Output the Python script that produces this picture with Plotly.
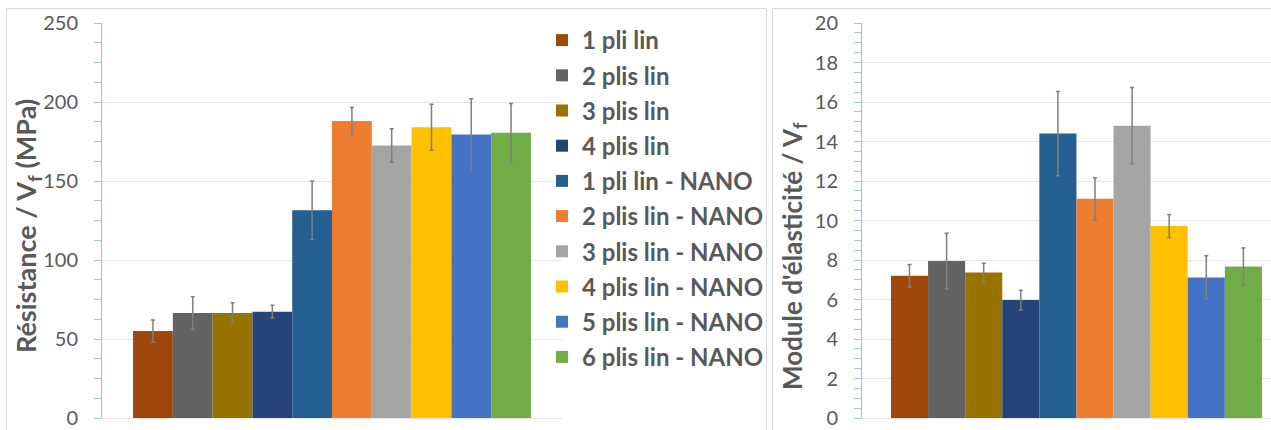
import plotly.graph_objects as go

series_names = ["1 pli lin", "2 plis lin", "3 plis lin", "4 plis lin",
                "1 pli lin - NANO", "2 plis lin - NANO", "3 plis lin - NANO",
                "4 plis lin - NANO", "5 plis lin - NANO", "6 plis lin - NANO"]
colors = ["#9E480E", "#636363", "#997300", "#264478", "#255E91",
          "#ED7D31", "#A5A5A5", "#FFC000", "#4472C4", "#70AD47"]

resistance = [55, 66.5, 66.5, 67.3, 131.5, 188, 172.5, 184, 179.5, 180.5]
resistance_err = [7, 10.3, 6.5, 4, 18.5, 8.5, 10.5, 14.5, 22.5, 18.5]

module = [7.2, 7.95, 7.37, 5.97, 14.4, 11.1, 14.8, 9.72, 7.12, 7.67]
module_err = [0.57, 1.4, 0.46, 0.5, 2.13, 1.06, 1.93, 0.58, 1.09, 0.94]

left_ticks = [0, 50, 100, 150, 200, 250]
right_ticks = [0, 2, 4, 6, 8, 10, 12, 14, 16, 18, 20]

W, H = 1271, 430
FONT = "Lato"
TXT = "#595959"
AXC = "#9DC3E6"
GRID = "#E6E6E6"

fig = go.Figure()
for i, name in enumerate(series_names):
    fig.add_trace(go.Bar(
        x=[0], y=[resistance[i]], name=name, marker_color=colors[i],
        marker_line_width=0,
        error_y=dict(type="data", array=[resistance_err[i]], color="#7F7F7F",
                     thickness=1.5, width=2),
        legendgroup=f"g{i}", xaxis="x", yaxis="y"))
for i, name in enumerate(series_names):
    fig.add_trace(go.Bar(
        x=[0], y=[module[i]], name=name, marker_color=colors[i],
        marker_line_width=0, showlegend=False,
        error_y=dict(type="data", array=[module_err[i]], color="#7F7F7F",
                     thickness=1.5, width=2),
        legendgroup=f"g{i}", xaxis="x2", yaxis="y2"))

ydom = [12 / H, 407 / H]
common_y = dict(
    showline=True, linecolor=AXC, linewidth=1,
    ticks="outside", ticklen=7, tickcolor=AXC, tickwidth=1,
    showgrid=True, gridcolor=GRID, gridwidth=1,
    zeroline=False, automargin=False,
    tickfont=dict(family=FONT, size=20, color=TXT),
    ticklabelstandoff=12,
)
fig.update_layout(
    width=W, height=H,
    margin=dict(l=0, r=0, t=0, b=0),
    paper_bgcolor="white", plot_bgcolor="white",
    barmode="group", bargap=0.135, bargroupgap=0,
    xaxis=dict(domain=[102 / W, 562 / W], showticklabels=False, ticks="",
               showline=True, linecolor=GRID, range=[-0.5, 0.5],
               automargin=False, showgrid=False, zeroline=False),
    xaxis2=dict(domain=[862 / W, 1.0], showticklabels=False, ticks="",
                showline=True, linecolor=GRID, range=[-0.5, 0.4536],
                automargin=False, anchor="y2", showgrid=False, zeroline=False),
    yaxis=dict(domain=ydom, range=[0, 250], tickvals=left_ticks,
               minor=dict(dtick=12.5, ticks="outside", ticklen=7, tickcolor=AXC,
                          showgrid=False),
               **common_y),
    yaxis2=dict(domain=ydom, range=[0, 20], tickvals=right_ticks, anchor="x2",
                minor=dict(dtick=0.5, ticks="outside", ticklen=7, tickcolor=AXC,
                           showgrid=False),
                **common_y),
    legend=dict(x=542 / W, xanchor="left", y=(H - 18) / H, yanchor="top",
                font=dict(family=FONT, size=24, color=TXT, weight="bold"),
                tracegroupgap=1, bgcolor="rgba(0,0,0,0)"),
    showlegend=True,
)

# panel borders
fig.add_shape(type="rect", xref="paper", yref="paper",
              x0=6.5 / W, x1=766.5 / W, y0=-0.1, y1=(H - 8.5) / H,
              line=dict(color="#D9D9D9", width=1), layer="below")
fig.add_shape(type="rect", xref="paper", yref="paper",
              x0=772.5 / W, x1=1.05, y0=-0.1, y1=(H - 8.5) / H,
              line=dict(color="#D9D9D9", width=1), layer="below")

# axis titles
fig.add_annotation(text="Résistance / V<sub>f</sub> (MPa)", xref="paper", yref="paper",
                   x=27 / W, y=(H - 226) / H, textangle=-90, showarrow=False,
                   font=dict(family=FONT, size=27, color=TXT, weight="bold"),
                   xanchor="center", yanchor="middle")
fig.add_annotation(text="Module d'élasticité / V<sub>f</sub>", xref="paper", yref="paper",
                   x=793 / W, y=(H - 256) / H, textangle=-90, showarrow=False,
                   font=dict(family=FONT, size=26, color=TXT, weight="bold"),
                   xanchor="center", yanchor="middle")

fig.write_html("out.html",
               config={"displayModeBar": False},
               post_script="document.body.style.margin='0';document.body.style.overflow='hidden';")
